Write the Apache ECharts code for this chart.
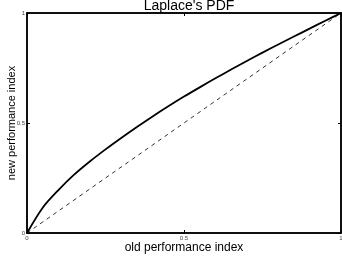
<!DOCTYPE html>
<html>
<head>
<meta charset="utf-8">
<script src="https://cdn.jsdelivr.net/npm/echarts@6/dist/echarts.min.js"></script>
<style>
  html, body { margin: 0; padding: 0; background: #ffffff; }
  #chart { width: 342px; height: 258px; }
</style>
</head>
<body>
<div id="chart"></div>
<script>
// old performance index (x) and new performance index (y)
const oldIndex = [0, 0.05, 0.1, 0.15, 0.2, 0.25, 0.3, 0.35, 0.4, 0.45, 0.5, 0.55, 0.6, 0.65, 0.7, 0.75, 0.8, 0.85, 0.9, 0.95, 1]
const newIndex = [0, 0.115, 0.195, 0.265, 0.325, 0.38, 0.432, 0.482, 0.53, 0.576, 0.62, 0.662, 0.703, 0.743, 0.782, 0.82, 0.857, 0.893, 0.929, 0.965, 1]
// reference diagonal
const diagX = [0, 1]
const diagY = [0, 1]
const tickLabels = ['0', '0.5', '1']

const font = 'Liberation Sans, Arial, sans-serif'

function labelFor (v) {
  if (v === 0) return tickLabels[0]
  if (v === 0.5) return tickLabels[1]
  if (v === 1) return tickLabels[2]
  return ''
}

function axis (extra) {
  return Object.assign({
    type: 'value',
    min: 0,
    max: 1,
    interval: 0.5,
    splitLine: { show: false },
    axisLine: { show: true, onZero: false, lineStyle: { color: '#000', width: 1.5 } },
    axisTick: { show: true, inside: true, length: 3, lineStyle: { color: '#000' } }
  }, extra)
}

const chart = echarts.init(document.getElementById('chart'))
chart.setOption({
  animation: false,
  title: {
    text: "Laplace's PDF",
    left: 184,
    textAlign: 'center',
    top: -6,
    textStyle: { fontFamily: font, fontSize: 14, fontWeight: 'normal', color: '#000' }
  },
  grid: {
    left: 27,
    right: 1,
    top: 13,
    bottom: 25,
    outerBoundsMode: 'none',
    containLabel: false,
    show: true,
    borderColor: '#000',
    borderWidth: 1.5,
    backgroundColor: 'transparent'
  },
  xAxis: [
    axis({
      position: 'bottom',
      name: 'old performance index',
      nameLocation: 'middle',
      nameGap: 9,
      nameMoveOverlap: false,
      nameTextStyle: { fontFamily: font, fontSize: 12, color: '#000' },
      axisLabel: { fontFamily: font, fontSize: 6, color: '#444', margin: 2, formatter: labelFor }
    }),
    axis({ position: 'top', axisLabel: { show: false } })
  ],
  yAxis: [
    axis({
      position: 'left',
      name: 'new performance index',
      nameLocation: 'middle',
      nameGap: 10,
      nameMoveOverlap: false,
      nameTextStyle: { fontFamily: font, fontSize: 11, color: '#000' },
      axisLabel: { fontFamily: font, fontSize: 6, color: '#444', margin: 2, formatter: labelFor }
    }),
    axis({ position: 'right', axisLabel: { show: false } })
  ],
  series: [
    {
      type: 'line',
      data: diagX.map((x, i) => [x, diagY[i]]),
      showSymbol: false,
      lineStyle: { color: '#333', width: 1, type: [4, 4] }
    },
    {
      type: 'line',
      smooth: 0.3,
      data: oldIndex.map((x, i) => [x, newIndex[i]]),
      showSymbol: false,
      lineStyle: { color: '#000', width: 1.8 }
    }
  ]
})
</script>
</body>
</html>
